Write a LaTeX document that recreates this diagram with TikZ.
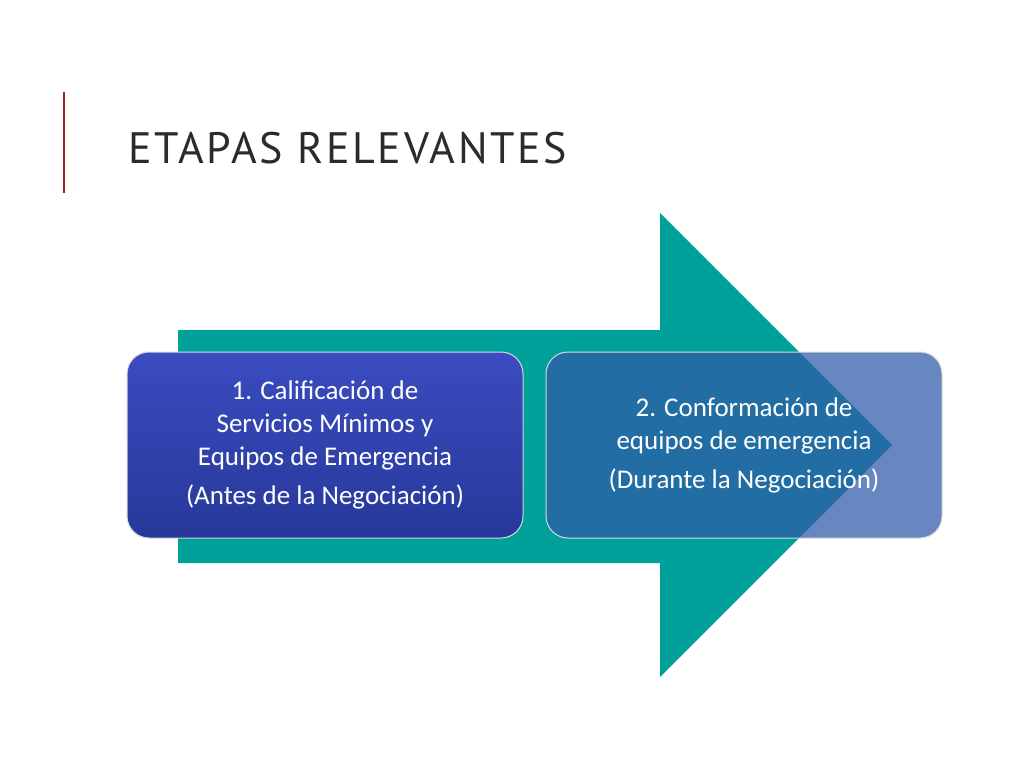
\documentclass[tikz,border=0pt]{standalone}
\usepackage{fontspec}
\setmainfont{Carlito}
\newfontfamily\titlefont{PT Sans}
\definecolor{teal1}{HTML}{00A19B}
\definecolor{boxA}{HTML}{3A4CC0}
\definecolor{boxAd}{HTML}{27389A}
\definecolor{boxB}{HTML}{2F5AA8}
\definecolor{titlec}{HTML}{2B2B2B}
\definecolor{redl}{HTML}{A01F24}
\begin{document}
\begin{tikzpicture}[x=1pt,y=-1pt,
  stagebox/.style={rounded corners=22pt,minimum width=396pt,minimum height=186pt,
    align=center,text=white,font=\fontsize{27}{33}\selectfont,draw=white!70!gray,line width=1pt},
]
\useasboundingbox[fill=white] (0,0) rectangle (1024,768);
\draw[redl,line width=2.5pt] (64,92) -- (64,193);
\node[anchor=west,text=titlec,font=\titlefont\fontsize{44}{44}\selectfont,inner sep=0pt] (title) at (128,148) {\addfontfeatures{LetterSpace=6}ETAPAS RELEVANTES};
\fill[teal1] (178,330) -- (660,330) -- (660,213) -- (892,445) -- (660,677) -- (660,563) -- (178,563) -- cycle;
\node[stagebox,top color=boxA,bottom color=boxAd] (s1) at (325,445)
  {1. Calificación de\\Servicios Mínimos y\\Equipos de Emergencia\\[6pt](Antes de la Negociación)};
\node[stagebox,fill=boxB,fill opacity=0.72,text opacity=1] (s2) at (744,445)
  {2. Conformación de\\equipos de emergencia\\[6pt](Durante la Negociación)};
\end{tikzpicture}
\end{document}
